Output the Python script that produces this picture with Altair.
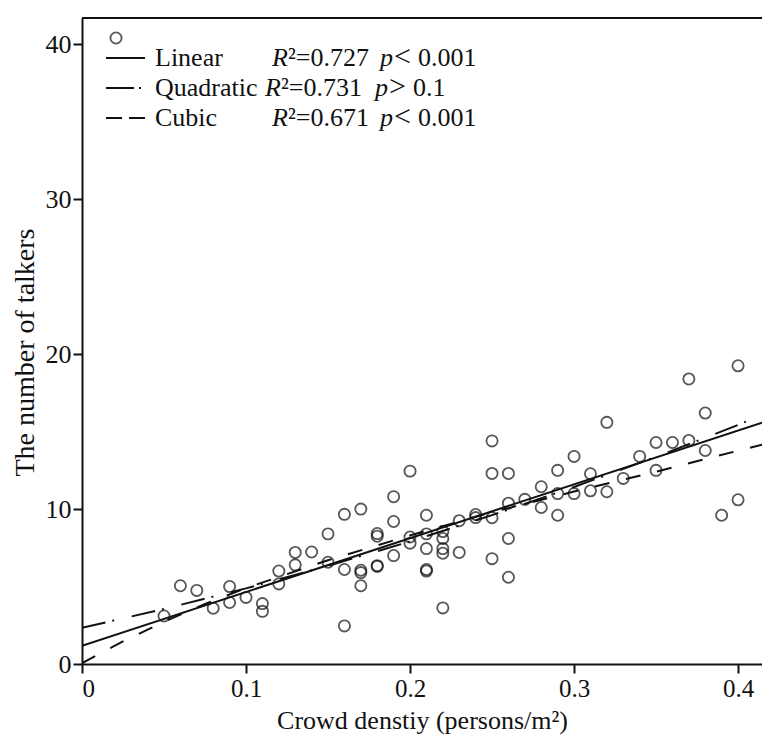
import altair as alt
import pandas as pd

# ---- scatter data ----
density = [0.05, 0.06, 0.07, 0.08, 0.09, 0.09, 0.10, 0.11, 0.11, 0.12, 0.12,
           0.13, 0.13, 0.14, 0.15, 0.15, 0.16, 0.16, 0.16,
           0.17, 0.17, 0.17, 0.17, 0.18, 0.18, 0.18, 0.18,
           0.19, 0.19, 0.19, 0.20, 0.20, 0.20,
           0.21, 0.21, 0.21, 0.21, 0.21,
           0.22, 0.22, 0.22, 0.22, 0.22,
           0.23, 0.23, 0.24, 0.24,
           0.25, 0.25, 0.25, 0.25, 0.26, 0.26, 0.26, 0.26,
           0.27, 0.28, 0.28, 0.29, 0.29, 0.29, 0.30, 0.30,
           0.31, 0.31, 0.32, 0.32, 0.33, 0.34, 0.35, 0.35, 0.36,
           0.37, 0.37, 0.38, 0.38, 0.39, 0.40, 0.40]
talkers = [3.1, 5.05, 4.75, 3.6, 5.0, 3.97, 4.3, 3.9, 3.4, 6.0, 5.17,
           7.2, 6.4, 7.23, 8.4, 6.57, 9.66, 6.1, 2.46,
           10.0, 6.05, 5.9, 5.05, 8.42, 8.25, 6.35, 6.3,
           10.8, 9.2, 7.0, 12.45, 8.2, 7.8,
           9.6, 8.4, 7.45, 6.1, 6.0,
           8.55, 8.1, 7.45, 7.15, 3.62,
           9.25, 7.2, 9.65, 9.45,
           14.4, 12.3, 9.44, 6.8, 12.3, 10.38, 8.1, 5.6,
           10.63, 11.44, 10.1, 12.5, 11.0, 9.6, 13.4, 11.0,
           12.28, 11.18, 15.6, 11.12, 11.98, 13.4, 14.3, 12.5, 14.3,
           18.4, 14.43, 16.2, 13.78, 9.6, 19.25, 10.6]

# ---- fitted curves ----
lin_x = [0.0, 0.4146]
lin_y = [1.18, 15.57]
quad_x = [0.0, 0.05, 0.1, 0.15, 0.2, 0.25, 0.3, 0.35, 0.4, 0.4146]
quad_y = [2.34, 3.55, 4.88, 6.34, 7.91, 9.61, 11.43, 13.37, 15.43, 16.1]
cub_x = [0.0, 0.01, 0.025, 0.05, 0.075, 0.1, 0.15, 0.2, 0.25, 0.3, 0.35, 0.4, 0.4146]
cub_y = [0.05, 0.63, 1.46, 2.72, 3.88, 4.9, 6.7, 8.3, 9.8, 11.13, 12.41, 13.77, 14.15]

x_ticks = [0, 0.1, 0.2, 0.3, 0.4]
y_ticks = [0, 10, 20, 30, 40]

legend_names = ["Linear", "Quadratic", "Cubic"]
legend_r2 = ["\u00b2=0.727", "\u00b2=0.731", "\u00b2=0.671"]
legend_sign = ["<", ">", "<"]
legend_pv = ["0.001", "0.1", "0.001"]

W, H = 680, 646
FONT = "Liberation Serif"
INK = "#111111"

xs = alt.Scale(domain=[0, 0.4146], nice=False, zero=False)
ys = alt.Scale(domain=[0, 41.7], nice=False, zero=False)

X_AX = alt.Axis(values=x_ticks, format="~g",
                title="Crowd denstiy (persons/m\u00b2)",
                titleY=56, titleBaseline="middle", labelPadding=3)
Y_AX = alt.Axis(values=y_ticks, format="d",
                title="The number of talkers", titleFontSize=28,
                titleX=-57, titleY=334, titleAngle=-90,
                titleAlign="center", titleBaseline="middle", labelPadding=2,
                labelFontSize=26)

pts_df = pd.DataFrame({"x": density, "y": talkers})

pts = alt.Chart(pts_df).mark_point(
    shape="circle", filled=False, color=INK, size=125, strokeWidth=1.8
).encode(
    x=alt.X("x:Q", scale=xs, axis=X_AX),
    y=alt.Y("y:Q", scale=ys, axis=Y_AX),
)


def curve(xv, yv, dash=None):
    df = pd.DataFrame({"x": xv, "y": yv})
    kw = dict(color=INK, strokeWidth=2, clip=True)
    if dash:
        kw["strokeDash"] = dash
    return alt.Chart(df).mark_line(**kw).encode(
        x=alt.X("x:Q", scale=xs, axis=X_AX),
        y=alt.Y("y:Q", scale=ys, axis=Y_AX),
    )


lin = curve(lin_x, lin_y)
quad = curve(quad_x, quad_y, [24, 7, 2, 18])
cub = curve(cub_x, cub_y, [15, 17])

dummy = pd.DataFrame({"a": [0]})
frame_top = alt.Chart(dummy).mark_rule(color=INK, strokeWidth=2).encode(
    x=alt.value(0), x2=alt.value(W), y=alt.value(0)
)

layers = [pts, lin, quad, cub, frame_top]

# legend (annotation layout, pixel positions inside the plot area)
layers.append(alt.Chart(dummy).mark_point(
    shape="circle", filled=False, color=INK, size=125, strokeWidth=1.8
).encode(x=alt.value(34), y=alt.value(20)))

row_y = [40, 70, 100]
dashes = [None, [28, 5, 2, 4, 2, 20], [16, 7]]
r_x = [190, 183, 190]
p_x = [298, 293, 298]


def txt(t, x, y, italic=False, size=26):
    kw = dict(text=t, font=FONT, fontSize=size, color=INK,
              align="left", baseline="middle")
    if italic:
        kw["fontStyle"] = "italic"
    return alt.Chart(dummy).mark_text(**kw).encode(x=alt.value(x), y=alt.value(y))


for i in range(3):
    kw = dict(color=INK, strokeWidth=2)
    if dashes[i]:
        kw["strokeDash"] = dashes[i]
    layers.append(alt.Chart(dummy).mark_rule(**kw).encode(
        x=alt.value(24), x2=alt.value(63), y=alt.value(row_y[i])))
    layers.append(txt(legend_names[i], 73, row_y[i]))
    layers.append(txt("R", r_x[i], row_y[i], italic=True))
    layers.append(txt(legend_r2[i], r_x[i] + 16, row_y[i]))
    layers.append(txt("p", p_x[i], row_y[i], italic=True))
    layers.append(txt(legend_sign[i], p_x[i] + 14, row_y[i] - 1, size=30))
    layers.append(txt(legend_pv[i], p_x[i] + 38, row_y[i]))

chart = alt.layer(*layers).properties(
    width=W, height=H,
    padding={"left": 82, "top": 18, "right": 0, "bottom": 81},
    autosize=alt.AutoSizeParams(type="none"),
    background="white",
).configure_view(stroke=None).configure_axis(
    grid=False,
    domainColor=INK, domainWidth=2,
    tickColor=INK, tickWidth=2, tickSize=9,
    labelFont=FONT, labelFontSize=25, labelColor=INK,
    titleFont=FONT, titleFontSize=26, titleFontWeight="normal", titleColor=INK,
)

chart.save("out.html", embed_options={"renderer": "svg", "actions": False})
